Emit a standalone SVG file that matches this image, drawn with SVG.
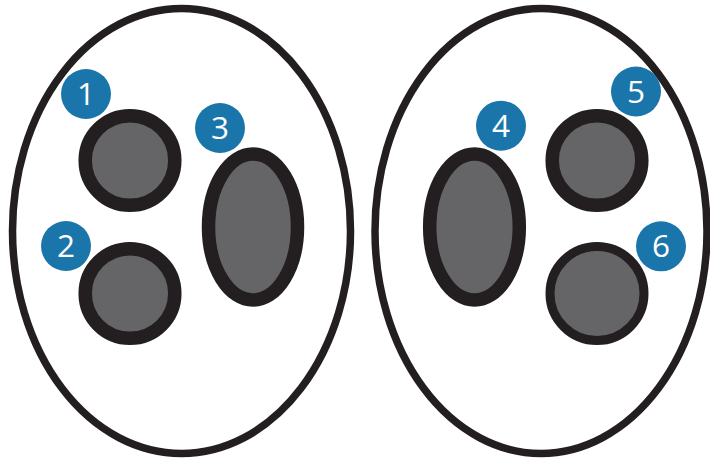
<svg xmlns="http://www.w3.org/2000/svg" width="710" height="459" viewBox="0 0 710 459">
<style>
.outer{fill:#ffffff;stroke:#231f20;stroke-width:7.5}
.pod{fill:#656567;stroke:#231f20;stroke-width:13.5}
.pod-thin{fill:#656567;stroke:#231f20;stroke-width:9}
.badge{fill:#1a75ab}
.num{fill:#ffffff;font-family:"Open Sans","Noto Sans",sans-serif;font-size:31.5px;text-anchor:middle}
</style>
<rect width="710" height="459" fill="#ffffff"/>
<g id="left-panel">
<ellipse class="outer" cx="181.5" cy="231" rx="169" ry="222.5"/>
</g>
<g id="right-panel">
<ellipse class="outer" cx="541" cy="231" rx="166" ry="222.5"/>
</g>
<g id="pod1"><circle class="pod" cx="130" cy="160.5" r="44.8"/></g>
<g id="pod2"><circle class="pod" cx="130" cy="293.5" r="44.8"/></g>
<g id="pod3"><ellipse class="pod" cx="253" cy="227" rx="44.5" ry="73"/></g>
<g id="pod4"><ellipse class="pod" cx="474.5" cy="227" rx="44.8" ry="73"/></g>
<g id="pod5"><circle class="pod" cx="597" cy="160.5" r="44.8"/></g>
<g id="pod6"><circle class="pod-thin" cx="597" cy="293.5" r="47"/></g>
<g id="badge1"><circle class="badge" cx="86" cy="94" r="25"/><text class="num" x="86" y="105">1</text></g>
<g id="badge2"><circle class="badge" cx="66" cy="246" r="25"/><text class="num" x="66" y="257">2</text></g>
<g id="badge3"><circle class="badge" cx="220" cy="128" r="25"/><text class="num" x="220" y="139">3</text></g>
<g id="badge4"><circle class="badge" cx="501" cy="125.7" r="25"/><text class="num" x="501" y="136.7">4</text></g>
<g id="badge5"><circle class="badge" cx="636" cy="91.5" r="25"/><text class="num" x="636" y="102.5">5</text></g>
<g id="badge6"><circle class="badge" cx="661" cy="246.3" r="25"/><text class="num" x="661" y="257.3">6</text></g>
<g id="connectors"/>
</svg>
